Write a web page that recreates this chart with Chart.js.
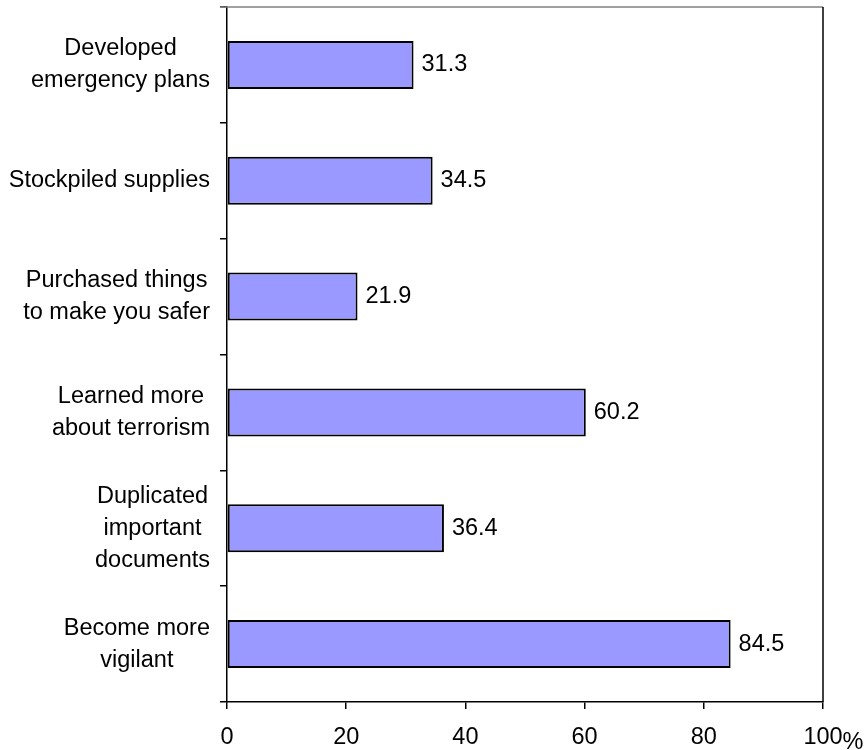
<!DOCTYPE html>
<html>
<head>
<meta charset="utf-8">
<script src="https://cdn.jsdelivr.net/npm/chart.js@4/dist/chart.umd.min.js"></script>
<style>
  body { margin: 0; background: #fff; }
  #wrap { width: 866px; height: 750px; position: relative; }
</style>
</head>
<body>
<div id="wrap"><canvas id="barChart"></canvas></div>
<script>
// chart data
const categories = [
  ["Developed", "emergency plans"],
  ["Stockpiled supplies"],
  ["Purchased things", "to make you safer"],
  ["Learned more", "about terrorism"],
  ["Duplicated", "important", "documents"],
  ["Become more", "vigilant"]
];
const values = [31.3, 34.5, 21.9, 60.2, 36.4, 84.5];
const xTicks = [0, 20, 40, 60, 80, 100];

const FONT = 'Arial, "Liberation Sans", sans-serif';
const FSIZE = 23.5;

Chart.defaults.font.family = FONT;
Chart.defaults.font.size = FSIZE;
Chart.defaults.color = '#000';

// y labels: block right-aligned, lines centered inside the block
const catLabels = {
  id: 'catLabels',
  afterDraw(chart) {
    const ctx = chart.ctx;
    const y = chart.scales.y;
    const rightEdge = 210;
    const lh = 32;
    ctx.save();
    ctx.font = FSIZE + 'px ' + FONT;
    ctx.fillStyle = '#000';
    ctx.textAlign = 'center';
    ctx.textBaseline = 'middle';
    categories.forEach((lines, i) => {
      const cy = y.getPixelForValue(i);
      const w = Math.max(...lines.map(l => ctx.measureText(l).width));
      const cx = rightEdge - w / 2;
      const y0 = cy - (lines.length - 1) * lh / 2;
      lines.forEach((l, j) => ctx.fillText(l, cx, y0 + j * lh));
    });
    ctx.restore();
  }
};

// value labels at bar ends, plus frame and the "%" sign
const extras = {
  id: 'extras',
  afterDatasetsDraw(chart) {
    const ctx = chart.ctx;
    const area = chart.chartArea;
    ctx.save();
    // frame top (grey) and right (black)
    ctx.lineWidth = 1.5;
    ctx.strokeStyle = '#808080';
    ctx.beginPath();
    ctx.moveTo(area.left - 7, area.top);
    ctx.lineTo(area.right, area.top);
    ctx.stroke();
    ctx.strokeStyle = '#000';
    ctx.beginPath();
    ctx.moveTo(area.right, area.top);
    ctx.lineTo(area.right, area.bottom);
    ctx.stroke();

    ctx.font = FSIZE + 'px ' + FONT;
    ctx.fillStyle = '#000';
    ctx.textAlign = 'left';
    ctx.textBaseline = 'middle';
    chart.getDatasetMeta(0).data.forEach((bar, i) => {
      ctx.fillText(values[i].toFixed(1), bar.x + 8, bar.y);
    });

    const xs = chart.scales.x;
    const px = xs.getPixelForValue(100) + ctx.measureText('100').width / 2;
    ctx.textBaseline = 'top';
    ctx.fillText('%', px, xs.top + 29);
    ctx.restore();
  }
};

new Chart(document.getElementById('barChart'), {
  type: 'bar',
  data: {
    labels: categories.map(c => c.join(' ')),
    datasets: [{
      data: values,
      backgroundColor: '#9999ff',
      borderColor: '#000',
      borderWidth: 2,
      borderSkipped: false,
      barPercentage: 0.415,
      categoryPercentage: 1
    }]
  },
  options: {
    indexAxis: 'y',
    responsive: true,
    maintainAspectRatio: false,
    animation: false,
    layout: { padding: { left: 8, right: 43, top: 7, bottom: 0 } },
    plugins: { legend: { display: false }, tooltip: { enabled: false } },
    scales: {
      x: {
        min: 0,
        max: 100,
        afterBuildTicks(scale) { scale.ticks = xTicks.map(v => ({ value: v })); },
        afterFit(scale) { scale.height = 48; },
        ticks: { padding: 14, maxRotation: 0, autoSkip: false },
        grid: { drawOnChartArea: false, tickLength: 7, color: '#000', lineWidth: 1.5 },
        border: { color: '#000', width: 1.5 }
      },
      y: {
        afterFit(scale) { scale.width = 219; },
        ticks: { display: false },
        grid: { offset: true, drawOnChartArea: false, tickLength: 7, color: '#000', lineWidth: 1.5 },
        border: { color: '#000', width: 1.5 }
      }
    }
  },
  plugins: [catLabels, extras]
});
</script>
</body>
</html>
